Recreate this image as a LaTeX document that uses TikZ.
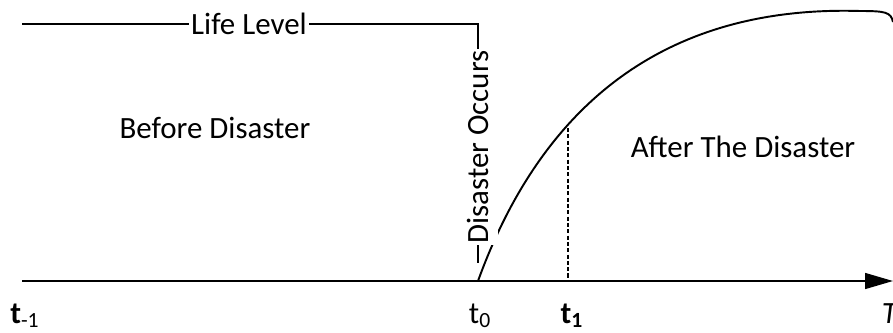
\documentclass[tikz,border=0pt]{standalone}
\usepackage{fontspec}
\setmainfont{Carlito}
\usetikzlibrary{arrows.meta}

\begin{document}
\begin{tikzpicture}[x=0.02cm,y=-0.02cm,font=\fontsize{17.6}{21}\selectfont,line width=1.1pt,
 lbl/.style={fill=white,inner sep=1pt},
 txt/.style={anchor=base,inner sep=0pt},
 axis/.style={-{Triangle[length=15.9pt,width=9pt]}},
 guide/.style={line width=1pt,dash pattern=on 2.3pt off 1.3pt}]
\useasboundingbox (0,0) rectangle (893,332);
\coordinate (o) at (22,281);
\coordinate (tip) at (893,281);
\coordinate (tzero) at (478,281);
\coordinate (tone) at (568,281);
\coordinate (ttop) at (568,128);
\coordinate (lstart) at (22,24);
\coordinate (corner) at (478,24);
\coordinate (drop) at (478,263);
\coordinate (peak) at (860,11);
\coordinate (hook) at (893,22);
\draw[axis] (o) -- (tip);
\draw (lstart) -- (corner) -- (drop);
\node[lbl] (life) at (249,24) {Life Level};
\draw (tzero) .. controls (540,110) and (660,5) .. (peak) .. controls (885,11) and (891,12) .. (hook);
\draw[guide] (ttop) -- (tone);
\node[lbl,rotate=90,inner ysep=5pt] (occurs) at (478,147) {Disaster Occurs};
\node[txt] (before) at (215,138) {Before Disaster};
\node[txt] (after) at (743,157) {After The Disaster};
\node[txt] (tminus) at (25,323) {\textbf{t}\textsubscript{-1}};
\node[txt] (t0) at (480,323) {t\textsubscript{0}};
\node[txt] (t1) at (572,323) {\textbf{t\textsubscript{1}}};
\node[txt,anchor=base west] (T) at (881,323) {\textit{T}};
\end{tikzpicture}
\end{document}
